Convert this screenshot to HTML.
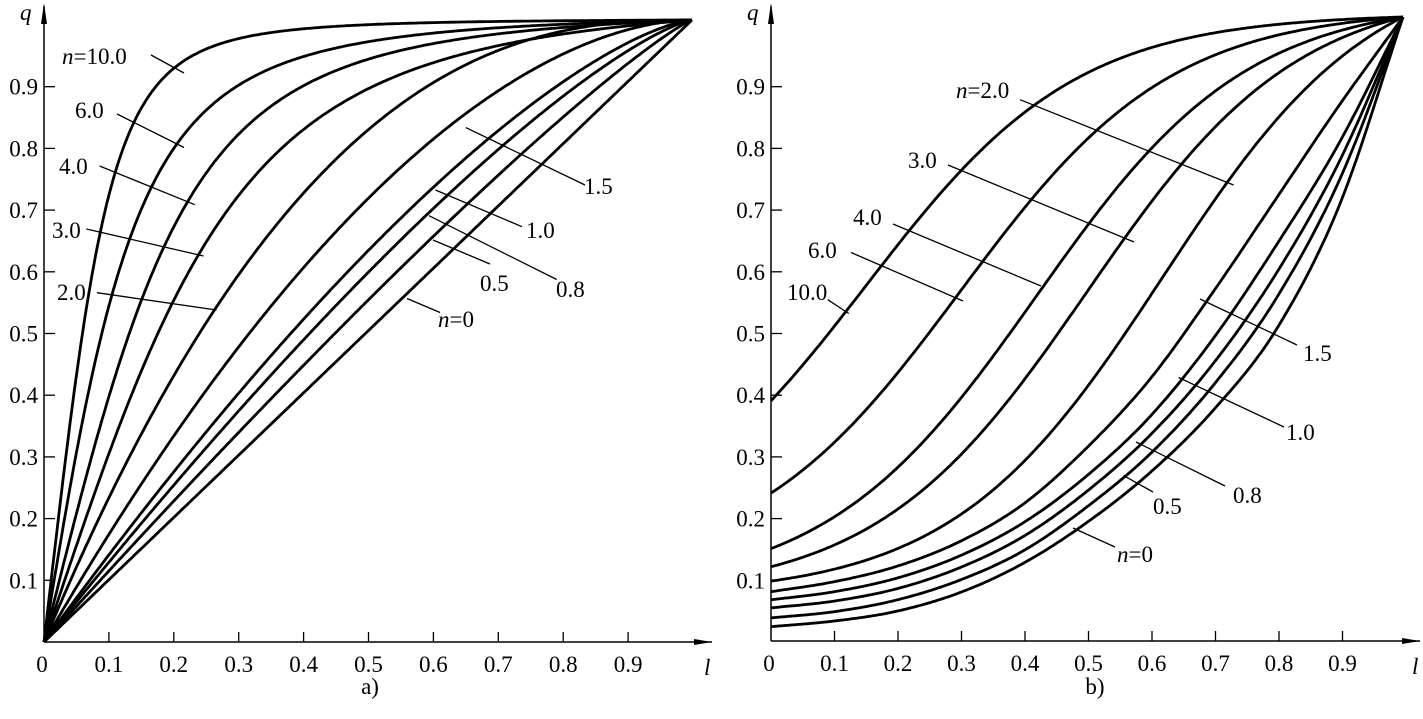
<!DOCTYPE html>
<html><head><meta charset="utf-8"><style>
html,body{margin:0;padding:0;background:#fff}
svg{display:block}
text{font-family:"Liberation Serif",serif;font-size:23px;fill:#000}
</style></head><body>
<svg id="s" width="1423" height="719" xmlns="http://www.w3.org/2000/svg"></svg>
<script>
var NS="http://www.w3.org/2000/svg",s=document.getElementById('s');
function el(t,a,txt){var e=document.createElementNS(NS,t);for(var k in a)e.setAttribute(k,a[k]);if(txt!=null)e.textContent=txt;s.appendChild(e);return e;}
function line(x1,y1,x2,y2,w){el('line',{x1:x1,y1:y1,x2:x2,y2:y2,stroke:'#000','stroke-width':w||1.3});}
function txt(x,y,t,anchor,html){var e=el('text',{x:x,y:y,'text-anchor':anchor||'start'});if(html)e.innerHTML=t;else e.textContent=t;return e;}
function axes(ox,oy,sx,xend){
  line(ox,oy,ox,6,1.5);el('polygon',{points:(ox-3)+',24 '+ox+',3 '+(ox+3)+',24',fill:'#000'});
  line(ox,oy,xend,oy,1.5);el('polygon',{points:(xend-18)+','+(oy-3)+' '+xend+','+oy+' '+(xend-18)+','+(oy+3),fill:'#000'});
  for(var i=1;i<=9;i++){var y=642-61.7*i;line(ox,y,ox+11,y,1.3);txt(ox-6,y+8,'0.'+i,'end');}
  for(var i=1;i<=9;i++){var x=ox+sx*i;line(x,oy,x,oy-10,1.3);txt(x,oy+30,'0.'+i,'middle');}
  txt(ox-2,oy+30,'0','middle');
  var q=el('text',{x:ox-24,y:20,'font-style':'italic'});q.textContent='q';
  var l=el('text',{x:xend-8,y:oy+33,'font-style':'italic'});l.textContent='l';
}
function path(fn,x0,y0,w,h){var d='';for(var i=0;i<=300;i++){var l=i/300,q=fn(l);d+=(i?'L':'M')+(x0+l*w).toFixed(1)+','+(y0-q*h).toFixed(1);}
el('path',{d:d,fill:'none',stroke:'#000','stroke-width':2.8,'stroke-linejoin':'round'});}
function table(v){return function(l){var n=v.length-1,t=l*n,i=Math.min(Math.floor(t),n-1),u=t-i;
var p0=v[Math.max(i-1,0)],p1=v[i],p2=v[i+1],p3=v[Math.min(i+2,n)];
if(i==0)p0=2*p1-p2; if(i+2>n)p3=2*p2-p1;
return 0.5*((2*p1)+(-p0+p2)*u+(2*p0-5*p1+4*p2-p3)*u*u+(-p0+3*p1-3*p2+p3)*u*u*u);};}
// LEFT
axes(44,642,64.9,712);
function pw(p){return function(l){return 1-Math.pow(1-l,p);};}
function sm(a,c){var n=a/Math.pow(1+Math.pow(a,c),1/c);return function(l){var x=a*l;return x/Math.pow(1+Math.pow(x,c),1/c)/n;};}
[pw(1),pw(1.15),pw(1.3),pw(1.43),pw(1.8),pw(2.5),sm(3,2.2),sm(4.1,2.2),sm(6.3,2),sm(9,2.5)].forEach(function(f){path(f,44,642,648,622);});
// RIGHT
axes(771,641,63.5,1420);
function lg(q0,m,k){function L(x){return 1/(1+Math.exp(-k*(x-m)));}var a=L(0),b=L(1);return function(l){return q0+(1-q0)*(L(l)-a)/(b-a);};}
[lg(0.385,0.15,6),lg(0.237,0.3,6),lg(0.148,0.42,6),lg(0.119,0.5,6),lg(0.096,0.62,6),
 table([.079,.095,.12,.16,.22,.31,.42,.56,.71,.86,1]),
 table([.066,.079,.101,.137,.19,.265,.36,.485,.635,.80,1]),
 table([.053,.064,.084,.118,.168,.24,.33,.445,.59,.77,1]),
 table([.037,.047,.066,.098,.145,.215,.30,.41,.55,.74,1]),
 table([.023,.032,.048,.078,.125,.19,.27,.37,.50,.70,1])
].forEach(function(f){path(f,771,641,632,624);});
// left labels
txt(62,64,'<tspan font-style="italic">n</tspan>=10.0','start',1);line(151,55,184,73);
txt(75,118,'6.0');line(117,114,184,147.5);
txt(59,174,'4.0');line(99.6,166,194.8,204.7);
txt(52,238,'3.0');line(86.4,229,203.5,256);
txt(57,300,'2.0');line(97,292.7,216.5,310);
txt(584,194,'1.5');line(465.8,127.6,585,185);
txt(526,238,'1.0');line(435.5,190,522,226.7);
txt(556,297,'0.8');line(429,215.7,556.7,279.5);
txt(480,291,'0.5');line(433,240,490,264);
txt(438,327,'<tspan font-style="italic">n</tspan>=0','start',1);line(407,298.5,440,312.5);
txt(370,694,'a)','middle');
// right labels
txt(956,98,'<tspan font-style="italic">n</tspan>=2.0','start',1);line(1020,99.7,1233.6,185);
txt(908,168,'3.0');line(948,165,1134,242);
txt(853,225,'4.0');line(893,224,1041,286);
txt(808,258,'6.0');line(851,252.5,963,301);
txt(787,300,'10.0');line(827.7,299.7,848.8,313.5);
txt(1303,361,'1.5');line(1200,299,1297,345);
txt(1286,440,'1.0');line(1178.6,377.5,1284,427);
txt(1233,503,'0.8');line(1136,442,1225,486);
txt(1153,514,'0.5');line(1123.6,475.6,1153,492);
txt(1117,562,'<tspan font-style="italic">n</tspan>=0','start',1);line(1073,528,1115,547);
txt(1095,694,'b)','middle');
</script>
</body></html>
